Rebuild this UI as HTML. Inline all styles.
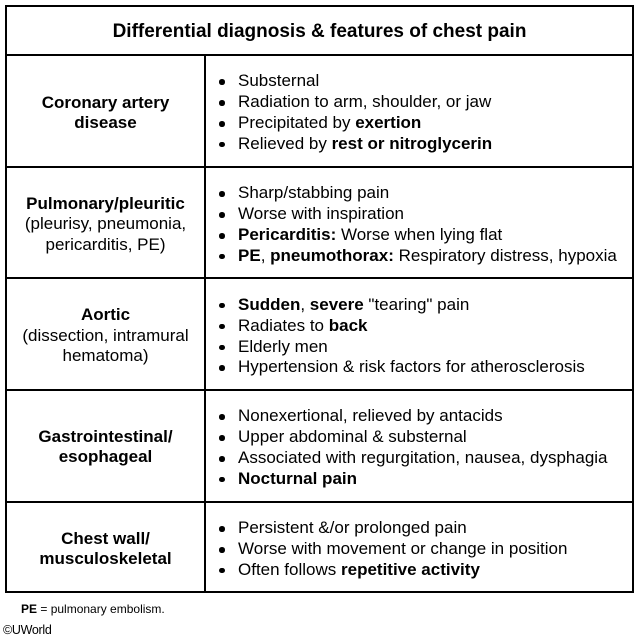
<!DOCTYPE html>
<html>
<head>
<meta charset="utf-8">
<style>
  html, body { margin:0; padding:0; background:#fff; }
  #c { position:relative; width:639px; height:638px; overflow:hidden; background:#fff;
       font-family:"Liberation Sans", Arial, sans-serif; color:#000; }
  .ln { position:absolute; background:#000; }
  .cell { position:absolute; display:flex; align-items:center; }
  .cell > * { position:relative; top:2px; }
  .lc { justify-content:center; text-align:center; font-size:17px; line-height:20.5px; }
  .rc { font-size:17px; line-height:20.8px; }
  .rc ul { list-style:none; margin:0; padding:0; }
  .rc li { position:relative; padding-left:32px; white-space:nowrap; }
  .rc li::before { content:""; position:absolute; left:13px; top:8px; width:5.5px; height:5.5px; border-radius:50%; background:#000; }
  b { font-weight:bold; }
</style>
</head>
<body>
<div id="c">
  <!-- title -->
  <div class="cell" style="left:7px; top:7px; width:625px; height:47px; justify-content:center; font-size:19px; font-weight:bold;"><span style="top:1px;">Differential diagnosis &amp; features of chest pain</span></div>

  <!-- row 1 -->
  <div class="cell lc" style="left:7px; top:56px; width:197px; height:110px;"><div><b>Coronary artery<br>disease</b></div></div>
  <div class="cell rc" style="left:206px; top:56px; width:426px; height:110px;">
    <ul>
      <li>Substernal</li>
      <li>Radiation to arm, shoulder, or jaw</li>
      <li>Precipitated by <b>exertion</b></li>
      <li>Relieved by <b>rest or nitroglycerin</b></li>
    </ul>
  </div>

  <!-- row 2 -->
  <div class="cell lc" style="left:7px; top:168px; width:197px; height:109px;"><div><b>Pulmonary/pleuritic</b><br>(pleurisy, pneumonia,<br>pericarditis, PE)</div></div>
  <div class="cell rc" style="left:206px; top:168px; width:426px; height:110px;">
    <ul>
      <li>Sharp/stabbing pain</li>
      <li>Worse with inspiration</li>
      <li><b>Pericarditis:</b> Worse when lying flat</li>
      <li><b>PE</b>, <b>pneumothorax:</b> Respiratory distress, hypoxia</li>
    </ul>
  </div>

  <!-- row 3 -->
  <div class="cell lc" style="left:7px; top:279px; width:197px; height:110px;"><div><b>Aortic</b><br>(dissection, intramural<br>hematoma)</div></div>
  <div class="cell rc" style="left:206px; top:279px; width:426px; height:111px;">
    <ul>
      <li><b>Sudden</b>, <b>severe</b> "tearing" pain</li>
      <li>Radiates to <b>back</b></li>
      <li>Elderly men</li>
      <li>Hypertension &amp; risk factors for atherosclerosis</li>
    </ul>
  </div>

  <!-- row 4 -->
  <div class="cell lc" style="left:7px; top:391px; width:197px; height:108px;"><div><b>Gastrointestinal/<br>esophageal</b></div></div>
  <div class="cell rc" style="left:206px; top:391px; width:426px; height:110px;">
    <ul>
      <li>Nonexertional, relieved by antacids</li>
      <li>Upper abdominal &amp; substernal</li>
      <li>Associated with regurgitation, nausea, dysphagia</li>
      <li><b>Nocturnal pain</b></li>
    </ul>
  </div>

  <!-- row 5 -->
  <div class="cell lc" style="left:7px; top:503px; width:197px; height:88px;"><div><b>Chest wall/<br>musculoskeletal</b></div></div>
  <div class="cell rc" style="left:206px; top:503px; width:426px; height:89px;">
    <ul>
      <li>Persistent &amp;/or prolonged pain</li>
      <li>Worse with movement or change in position</li>
      <li>Often follows <b>repetitive activity</b></li>
    </ul>
  </div>

  <!-- lines -->
  <div class="ln" style="left:5px; top:5px; width:629px; height:2px;"></div>
  <div class="ln" style="left:5px; top:591px; width:629px; height:2px;"></div>
  <div class="ln" style="left:5px; top:5px; width:2px; height:588px;"></div>
  <div class="ln" style="left:632px; top:5px; width:2px; height:588px;"></div>
  <div class="ln" style="left:5px; top:54px; width:629px; height:2px;"></div>
  <div class="ln" style="left:5px; top:166px; width:629px; height:2px;"></div>
  <div class="ln" style="left:5px; top:277px; width:629px; height:2px;"></div>
  <div class="ln" style="left:5px; top:389px; width:629px; height:2px;"></div>
  <div class="ln" style="left:5px; top:501px; width:629px; height:2px;"></div>
  <div class="ln" style="left:204px; top:54px; width:2px; height:539px;"></div>

  <!-- footer -->
  <div style="position:absolute; left:21px; top:601px; font-size:12px; line-height:16px; white-space:nowrap;"><b style="font-weight:600;">PE</b> = pulmonary embolism.</div>
  <div style="position:absolute; left:3px; top:622px; font-size:12.5px; line-height:16px; white-space:nowrap; letter-spacing:-0.3px;">©UWorld</div>
</div>
</body>
</html>
